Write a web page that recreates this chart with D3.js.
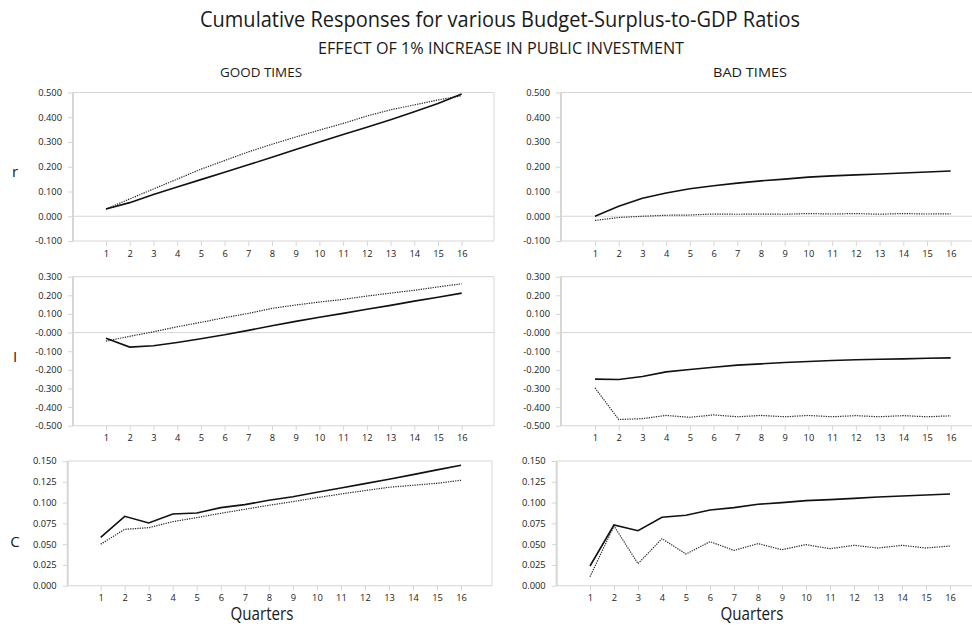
<!DOCTYPE html>
<html>
<head>
<meta charset="utf-8">
<script src="https://cdn.jsdelivr.net/npm/d3@7"></script>
<style>
  body { margin: 0; background: #fff; }
  svg { display: block; }
  text { font-family: "Open Sans", "Noto Sans", sans-serif; fill: #1a1a1a; }
</style>
</head>
<body>
<svg id="chart" width="972" height="626"></svg>
<script>
// Horizon in quarters
const quarters = [1, 2, 3, 4, 5, 6, 7, 8, 9, 10, 11, 12, 13, 14, 15, 16];

// Y tick labels per variable row
const rTickLabels = ["-0.100", "0.000", "0.100", "0.200", "0.300", "0.400", "0.500"];
const iTickLabels = ["-0.500", "-0.400", "-0.300", "-0.200", "-0.100", "-0.000", "0.100", "0.200", "0.300"];
const cTickLabels = ["0.000", "0.025", "0.050", "0.075", "0.100", "0.125", "0.150"];

// Interest rate (r)
const goodR_a = [0.029, 0.055, 0.088, 0.118, 0.148, 0.178, 0.208, 0.238, 0.270, 0.300, 0.330, 0.360, 0.390, 0.422, 0.456, 0.494];
const goodR_b = [0.029, 0.070, 0.110, 0.150, 0.190, 0.225, 0.260, 0.291, 0.320, 0.348, 0.375, 0.405, 0.430, 0.450, 0.470, 0.487];
const badR_a  = [0.000, 0.040, 0.073, 0.094, 0.111, 0.123, 0.134, 0.143, 0.150, 0.158, 0.163, 0.167, 0.171, 0.175, 0.179, 0.183];
const badR_b  = [-0.017, -0.005, 0.000, 0.004, 0.005, 0.009, 0.008, 0.009, 0.008, 0.011, 0.009, 0.011, 0.008, 0.011, 0.009, 0.010];

// Investment (I)
const goodI_a = [-0.031, -0.078, -0.071, -0.053, -0.033, -0.012, 0.012, 0.037, 0.060, 0.082, 0.103, 0.125, 0.146, 0.169, 0.190, 0.212];
const goodI_b = [-0.046, -0.020, 0.004, 0.031, 0.055, 0.080, 0.103, 0.130, 0.148, 0.164, 0.178, 0.196, 0.212, 0.227, 0.245, 0.262];
const badI_a  = [-0.250, -0.252, -0.236, -0.211, -0.198, -0.186, -0.175, -0.168, -0.161, -0.155, -0.150, -0.146, -0.143, -0.141, -0.138, -0.136];
const badI_b  = [-0.297, -0.467, -0.462, -0.445, -0.455, -0.442, -0.452, -0.445, -0.452, -0.445, -0.452, -0.446, -0.452, -0.446, -0.452, -0.447];

// Consumption (C)
const goodC_a = [0.0582, 0.0835, 0.0754, 0.0863, 0.0875, 0.0939, 0.0975, 0.1027, 0.1070, 0.1124, 0.1176, 0.1228, 0.1280, 0.1336, 0.1393, 0.1449];
const goodC_b = [0.0500, 0.0678, 0.0698, 0.0770, 0.0819, 0.0871, 0.0919, 0.0967, 0.1011, 0.1059, 0.1103, 0.1144, 0.1184, 0.1208, 0.1232, 0.1268];
const badC_a  = [0.0237, 0.0730, 0.0662, 0.0823, 0.0847, 0.0911, 0.0939, 0.0979, 0.0999, 0.1023, 0.1035, 0.1051, 0.1067, 0.1079, 0.1091, 0.1103];
const badC_b  = [0.0108, 0.0718, 0.0265, 0.0566, 0.0381, 0.0530, 0.0425, 0.0506, 0.0433, 0.0494, 0.0445, 0.0486, 0.0453, 0.0486, 0.0453, 0.0478];

const svg = d3.select("#chart");
const gridColor = "#d6d6d6";

// Titles
svg.append("text").attr("x", 500).attr("y", 27).attr("text-anchor", "middle")
  .attr("font-size", 21).attr("textLength", 600).attr("lengthAdjust", "spacingAndGlyphs")
  .text("Cumulative Responses for various Budget-Surplus-to-GDP Ratios");
svg.append("text").attr("x", 501).attr("y", 54).attr("text-anchor", "middle")
  .attr("font-size", 16).attr("textLength", 366).attr("lengthAdjust", "spacingAndGlyphs")
  .text("EFFECT OF 1% INCREASE IN PUBLIC INVESTMENT");
svg.append("text").attr("x", 261).attr("y", 77).attr("text-anchor", "middle")
  .attr("font-size", 13.5).attr("textLength", 82).attr("lengthAdjust", "spacingAndGlyphs")
  .text("GOOD TIMES");
svg.append("text").attr("x", 750).attr("y", 77).attr("text-anchor", "middle")
  .attr("font-size", 13.5).attr("textLength", 74).attr("lengthAdjust", "spacingAndGlyphs")
  .text("BAD TIMES");

// Row layout: vertical extent of each plot and its variable name
const rows = [
  { name: "r", ticks: rTickLabels, top: 92.5, bottom: 241, nameY: 177, good: [goodR_a, goodR_b], bad: [badR_a, badR_b],
    good_x: { axis: 73, first: 106, last: 461.7, right: 494 }, bad_x: { axis: 561, first: 595, last: 950.7, right: 980 } },
  { name: "I", ticks: iTickLabels, top: 276.7, bottom: 425.7, nameY: 362, good: [goodI_a, goodI_b], bad: [badI_a, badI_b],
    good_x: { axis: 73, first: 106, last: 461.7, right: 494 }, bad_x: { axis: 561, first: 595, last: 950.7, right: 980 } },
  { name: "C", ticks: cTickLabels, top: 461, bottom: 585.7, nameY: 547, good: [goodC_a, goodC_b], bad: [badC_a, badC_b],
    good_x: { axis: 67.7, first: 100.7, last: 461, right: 492 }, bad_x: { axis: 556.7, first: 590, last: 950, right: 980 } }
];

rows.forEach(row => {
  const tickVals = row.ticks.map(Number);
  const y = d3.scaleLinear().domain(d3.extent(tickVals)).range([row.bottom, row.top]);

  svg.append("text").attr("x", 15).attr("y", row.nameY).attr("text-anchor", "middle")
    .attr("font-size", 15).text(row.name);

  ["good", "bad"].forEach(col => {
    const geo = row[col + "_x"];
    const x = d3.scalePoint().domain(quarters).range([geo.first, geo.last]);
    const g = svg.append("g");

    // frame: top edge, right edge, zero line
    g.append("line").attr("x1", geo.axis).attr("x2", geo.right).attr("y1", y(d3.max(tickVals))).attr("y2", y(d3.max(tickVals)))
      .attr("stroke", gridColor).attr("stroke-width", 1);
    g.append("line").attr("x1", geo.right).attr("x2", geo.right).attr("y1", row.top).attr("y2", row.bottom)
      .attr("stroke", gridColor).attr("stroke-width", 1);
    if (d3.min(tickVals) < 0) {
      g.append("line").attr("x1", geo.axis).attr("x2", geo.right).attr("y1", y(0)).attr("y2", y(0))
        .attr("stroke", gridColor).attr("stroke-width", 1);
    }

    // x axis along the bottom of the plot
    const xAxis = d3.axisBottom(x).tickSize(5).tickPadding(4);
    const xg = g.append("g").attr("transform", `translate(0,${row.bottom})`).call(xAxis);
    xg.select(".domain").remove();
    xg.append("line").attr("x1", geo.axis).attr("x2", geo.right).attr("y1", 0).attr("y2", 0)
      .attr("stroke", gridColor).attr("stroke-width", 1);
    xg.selectAll(".tick line").attr("stroke", gridColor);
    xg.selectAll(".tick text").attr("font-size", 9.3).attr("fill", "#1a1a1a")
      .attr("font-family", "\"Open Sans\", sans-serif");

    // y axis
    const yAxis = d3.axisLeft(y).tickValues(tickVals).tickFormat((d, i) => row.ticks[i]).tickSize(5).tickPadding(6);
    const yg = g.append("g").attr("transform", `translate(${geo.axis},0)`).call(yAxis);
    yg.select(".domain").attr("stroke", gridColor).attr("stroke-width", 2)
      .attr("d", `M0,${row.top}V${row.bottom}`);
    yg.selectAll(".tick line").attr("stroke", gridColor);
    yg.selectAll(".tick text").attr("font-size", 9.3).attr("fill", "#1a1a1a")
      .attr("font-family", "\"Open Sans\", sans-serif");

    // response lines
    const line = d3.line().x((d, i) => x(quarters[i])).y(d => y(d));
    g.append("path").datum(row[col][1]).attr("d", line).attr("fill", "none")
      .attr("stroke", "#2a2a2a").attr("stroke-width", 1.2).attr("stroke-dasharray", "1.3,1.1");
    g.append("path").datum(row[col][0]).attr("d", line).attr("fill", "none")
      .attr("stroke", "#111").attr("stroke-width", 1.6);
  });
});

// Horizontal axis titles
svg.append("text").attr("x", 262).attr("y", 620).attr("text-anchor", "middle").attr("font-size", 17.5)
  .attr("textLength", 63).attr("lengthAdjust", "spacingAndGlyphs").text("Quarters");
svg.append("text").attr("x", 752).attr("y", 620).attr("text-anchor", "middle").attr("font-size", 17.5)
  .attr("textLength", 63).attr("lengthAdjust", "spacingAndGlyphs").text("Quarters");
</script>
</body>
</html>
